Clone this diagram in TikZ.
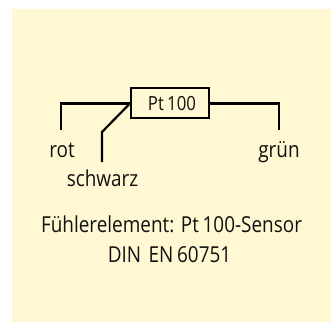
\documentclass[tikz,border=0pt]{standalone}
\usepackage{fontspec}
\setmainfont[FakeStretch=0.86]{Open Sans}
\definecolor{panel}{HTML}{FFF8D2}
\definecolor{ink}{HTML}{111111}
\tikzset{
  lbl/.style={inner sep=0pt,anchor=base,text=ink,font=\fontsize{22}{29.5}\selectfont,align=center},
  boxlbl/.style={lbl,font=\fontsize{19.5}{24}\selectfont},
  wire/.style={draw=black,line width=2.2pt,line join=miter},
  sensor/.style={draw=black,line width=2.2pt,fill=panel,minimum width=78pt,minimum height=30pt,inner sep=0pt}
}
\begin{document}
\begin{tikzpicture}[x=1pt,y=-1pt]
\useasboundingbox (0,0) rectangle (336,322);
\fill[panel] (12,9) rectangle (331,321.5);
\coordinate (r1) at (61,103.5);
\coordinate (r2) at (61,130);
\coordinate (s1) at (102,132);
\coordinate (s2) at (102,162);
\coordinate (g1) at (279,103.5);
\coordinate (g2) at (279,130);
\node[sensor] (pt) at (170,103) {};
\node[boxlbl] (ptl) at (172,110) {Pt\,100};
\draw[wire] (pt.west |- r1) -- (r1) -- (r2);
\draw[wire] (pt.west |- r1) -- (s1) -- (s2);
\draw[wire] (pt.east |- g1) -- (g1) -- (g2);
\node[lbl] (rot) at (62,157) {rot};
\node[lbl] (schwarz) at (102.5,186) {schwarz};
\node[lbl] (gruen) at (279,157) {grün};
\node[lbl] (cap1) at (171.5,232.7) {Fühlerelement: Pt\,100-Sensor};
\node[lbl] (cap2) at (169.5,262) {DIN\hspace{0.12em} EN\,60751};
\end{tikzpicture}
\end{document}
